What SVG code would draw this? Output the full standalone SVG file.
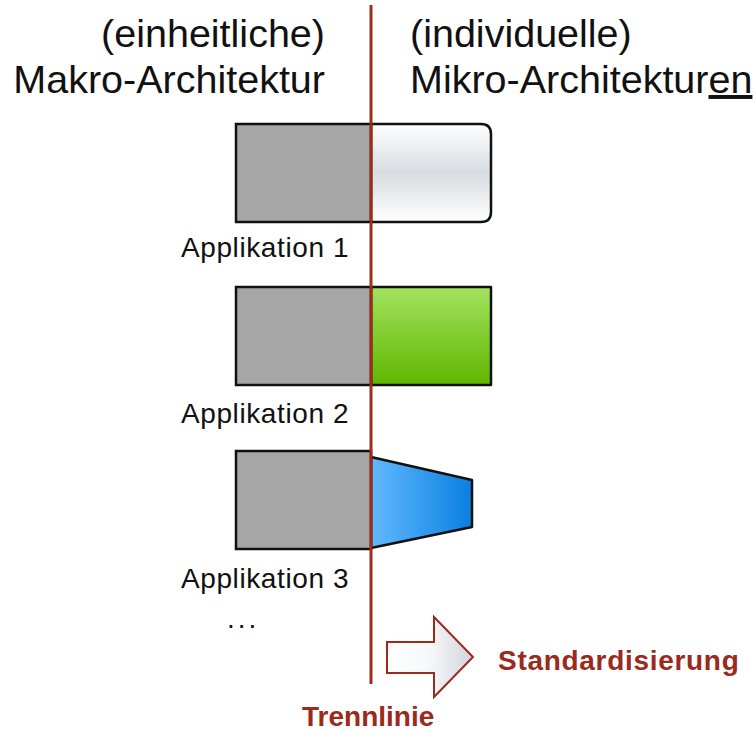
<svg xmlns="http://www.w3.org/2000/svg" width="755" height="733" viewBox="0 0 755 733">
  <defs>
    <linearGradient id="gWhite" x1="0" y1="0" x2="0" y2="1">
      <stop offset="0" stop-color="#ffffff"/>
      <stop offset="0.5" stop-color="#d7dce1"/>
      <stop offset="1" stop-color="#ffffff"/>
    </linearGradient>
    <linearGradient id="gGreen" x1="0" y1="0" x2="0" y2="1">
      <stop offset="0" stop-color="#a3e35f"/>
      <stop offset="1" stop-color="#5fb600"/>
    </linearGradient>
    <linearGradient id="gBlue" x1="0" y1="0" x2="1" y2="0">
      <stop offset="0" stop-color="#62b9ff"/>
      <stop offset="1" stop-color="#0a7fe0"/>
    </linearGradient>
    <linearGradient id="gArrow" x1="0" y1="0" x2="1" y2="0">
      <stop offset="0" stop-color="#ffffff"/>
      <stop offset="0.5" stop-color="#f6f7f8"/>
      <stop offset="1" stop-color="#cfd5dc"/>
    </linearGradient>
  </defs>
  <style>
    .hdr { font-family: "Liberation Sans", Arial, sans-serif; font-size: 39.5px; fill: #111111; }
    .lbl { font-family: "Liberation Sans", Arial, sans-serif; font-size: 28px; letter-spacing: 0.6px; fill: #111111; }
    .red { font-family: "Liberation Sans", Arial, sans-serif; font-size: 28px; font-weight: bold; fill: #9b2a1c; }
    .macro { fill: #a6a6a6; stroke: #111111; stroke-width: 2.5; }
    .micro { stroke: #111111; stroke-width: 2.5; stroke-linejoin: round; }
  </style>

  <rect width="755" height="733" fill="#ffffff"/>

  <!-- column headings -->
  <g id="heading-macro">
    <text class="hdr" x="325" y="47" text-anchor="end">(einheitliche)</text>
    <text class="hdr" x="325" y="93" text-anchor="end">Makro-Architektur</text>
  </g>
  <g id="heading-micro">
    <text class="hdr" x="410" y="47">(individuelle)</text>
    <text class="hdr" x="410" y="93">Mikro-Architektur<tspan text-decoration="underline">en</tspan></text>
  </g>

  <!-- application 1: rounded white micro part -->
  <g id="app1">
    <path class="micro" d="M371,124 H481 Q491,124 491,134 V212 Q491,222 481,222 H371 Z" fill="url(#gWhite)"/>
    <rect class="macro" x="236" y="124" width="135" height="98"/>
    <text class="lbl" x="181" y="257">Applikation 1</text>
  </g>

  <!-- application 2: green micro part -->
  <g id="app2">
    <rect class="micro" x="371" y="287" width="120" height="98" fill="url(#gGreen)"/>
    <rect class="macro" x="236" y="287" width="135" height="98"/>
    <text class="lbl" x="181" y="423">Applikation 2</text>
  </g>

  <!-- application 3: tapered blue micro part -->
  <g id="app3">
    <path class="micro" d="M371,457 L472,480 L472,527 L371,548 Z" fill="url(#gBlue)"/>
    <rect class="macro" x="236" y="451" width="135" height="98"/>
    <text class="lbl" x="181" y="588">Applikation 3</text>
  </g>

  <g id="more">
    <text class="lbl" x="227" y="628" style="letter-spacing:3px">...</text>
  </g>

  <!-- dividing line and standardisation arrow -->
  <g id="connectors">
    <line x1="371" y1="5" x2="371" y2="684" stroke="#a02c1c" stroke-width="3"/>
    <path d="M387,642 H434 V617 L473,657 L434,697 V673 H387 Z" fill="url(#gArrow)" stroke="#9b2a1c" stroke-width="2" stroke-linejoin="miter"/>
  </g>

  <g id="label-trennlinie">
    <text class="red" x="302" y="726">Trennlinie</text>
  </g>
  <g id="label-standardisierung">
    <text class="red" x="498" y="670" style="letter-spacing:0.7px">Standardisierung</text>
  </g>
</svg>
